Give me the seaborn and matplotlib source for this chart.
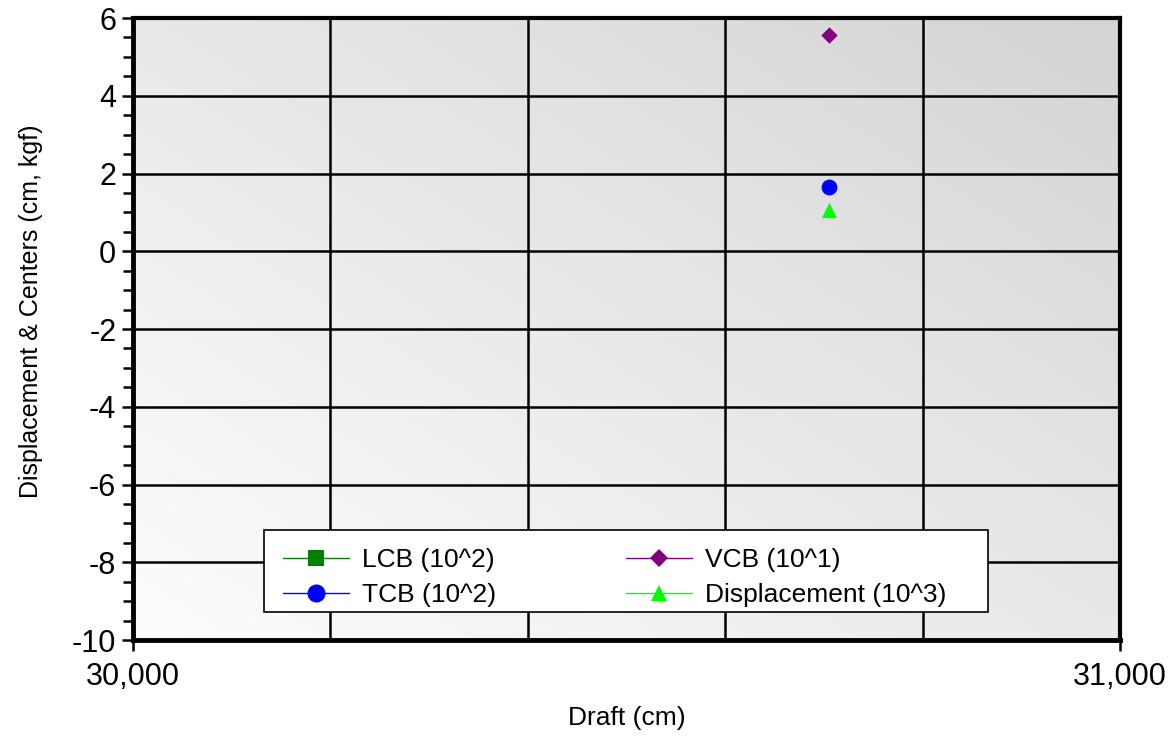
import numpy as np
import pandas as pd
import matplotlib
matplotlib.use("Agg")
import matplotlib.pyplot as plt
import seaborn as sns
from matplotlib.lines import Line2D
from matplotlib.patches import Rectangle
from matplotlib.ticker import MultipleLocator, FixedLocator, StrMethodFormatter

# data (single draft station)
draft = [30705]
lcb = [np.nan]          # not visible in the plotted range
tcb = [1.66]
vcb = [5.56]
displacement = [1.06]

series_names = ["LCB (10^2)", "TCB (10^2)", "VCB (10^1)", "Displacement (10^3)"]
series_values = [lcb, tcb, vcb, displacement]
colors = ["#008000", "#0000ff", "#800080", "#00ff00"]
markers = ["s", "o", "D", "^"]
marker_sizes = [110, 130, 70, 120]

sns.set_style("white")
plt.rcParams["font.family"] = ["Liberation Sans", "DejaVu Sans"]
plt.rcParams["axes.unicode_minus"] = False
plt.rcParams["text.color"] = "black"
plt.rcParams["axes.labelcolor"] = "black"
plt.rcParams["xtick.color"] = "black"
plt.rcParams["ytick.color"] = "black"

fig = plt.figure(figsize=(11.71, 7.40), dpi=100)
ax = fig.add_axes([133 / 1171, 1 - 640 / 740, (1120 - 133) / 1171, (640 - 18) / 740])

# gradient background: light bottom-left, darker top-right
gx, gy = np.meshgrid(np.linspace(0, 1, 200), np.linspace(0, 1, 200))
grad = (gx + gy) / 2
ax.imshow(grad, extent=[0, 1, 0, 1], transform=ax.transAxes, origin="lower",
          cmap=matplotlib.colors.LinearSegmentedColormap.from_list("bg", ["#fdfdfd", "#d4d4d4"]),
          aspect="auto", zorder=0)

for name, vals, c, m, s in zip(series_names, series_values, colors, markers, marker_sizes):
    df = pd.DataFrame({"x": draft, "y": vals}).dropna()
    if len(df):
        sns.scatterplot(data=df, x="x", y="y", color=c, marker=m, s=s,
                        edgecolor=c, linewidth=0, ax=ax, zorder=5)

ax.set_xlim(30000, 31000)
ax.set_ylim(-10, 6)

ax.xaxis.set_major_locator(FixedLocator([30000, 31000]))
ax.xaxis.set_minor_locator(MultipleLocator(200))
ax.xaxis.set_major_formatter(StrMethodFormatter("{x:,.0f}"))
ax.yaxis.set_major_locator(MultipleLocator(2))
ax.yaxis.set_minor_locator(MultipleLocator(0.5))

ax.grid(True, which="major", axis="y", color="black", linewidth=1.8, zorder=1)
ax.grid(True, which="minor", axis="x", color="black", linewidth=1.8, zorder=1)
ax.set_axisbelow(False)
for line in ax.get_xgridlines() + ax.get_ygridlines():
    line.set_zorder(1)

ax.tick_params(axis="both", which="major", direction="out", length=8, width=1.8,
               labelsize=22, color="black", bottom=True, left=True)
ax.tick_params(axis="y", which="minor", direction="out", length=7, width=1.8, left=True)
ax.tick_params(axis="x", which="minor", length=0)
ax.tick_params(axis="x", which="major", pad=8)
ax.tick_params(axis="y", which="major", pad=4)

for side in ["left", "bottom"]:
    ax.spines[side].set_linewidth(3.5)
for side in ["top", "right"]:
    ax.spines[side].set_linewidth(3)
for sp in ax.spines.values():
    sp.set_color("black")
    sp.set_zorder(6)

ax.set_xlabel("Draft (cm)", fontsize=19, labelpad=10)
ax.set_ylabel("Displacement & Centers (cm, kgf)", fontsize=18)
ax.yaxis.set_label_coords(-0.0912, 0.529)

# legend: own frame box, entries placed inside it
ax.add_patch(Rectangle((0.1327, 0.045), 0.7336, 0.1318, transform=ax.transAxes,
                       facecolor="white", edgecolor="black", linewidth=1.2, zorder=7))
handles = [Line2D([0], [0], color=c, marker=m, markersize=ms, linewidth=1.0,
                  markeredgewidth=0)
           for c, m, ms in zip(colors, markers, [12, 13, 9, 12])]
leg = ax.legend(handles, series_names, loc="upper left", ncol=2,
                bbox_to_anchor=(0.152, 0.1475),
                fontsize=19, frameon=False, handlelength=2.5, handletextpad=0.5,
                borderpad=0, labelspacing=0.4, borderaxespad=0,
                columnspacing=4.9)
leg.set_zorder(8)

fig.savefig("out.png", dpi=100)
